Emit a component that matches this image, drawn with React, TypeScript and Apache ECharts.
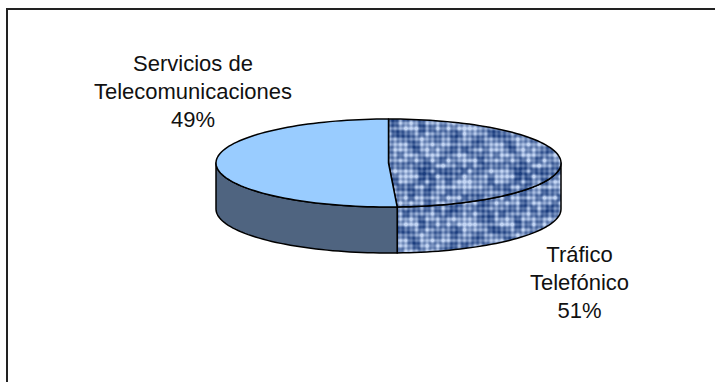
import React, { useEffect, useRef } from "react";
import * as echarts from "echarts";

// Printed on the chart.
const categories = ["Tráfico\nTelefónico", "Servicios de\nTelecomunicaciones"];
const printedPercent = [51, 49];
// Shares as actually drawn in the reference (measured from its slice boundary):
// the source's 3D projection makes the "51%" slice sweep slightly under half.
const drawnShares = [49.2, 50.8];

const labelCentres = [[579.5, 282], [193, 91.5]];
const CX = 388.5, CY = 163, RX = 172.5, RY = 44, DEPTH = 46;

function makeTexture() {
  const S = 96;
  const c = document.createElement("canvas");
  c.width = S; c.height = S;
  const ctx = c.getContext("2d")!;
  const img = ctx.createImageData(S, S);
  const N = 18; // coarse cells, wrapped so the tile repeats seamlessly
  const hash = (a: number, b: number) => {
    const x = ((a + N) % N), y = ((b + N) % N);
    let h = x * 374761 + y * 668265 + 1013;
    h = (h ^ (h >> 7)) * 1274;
    h = h ^ (h >> 11);
    return (Math.abs(h) % 101) / 100;
  };
  const smooth = (t: number) => t * t * (3 - 2 * t);
  const noise = (u: number, v: number) => {
    const i = Math.floor(u), j = Math.floor(v);
    const fu = smooth(u - i), fv = smooth(v - j);
    const a = hash(i, j), b = hash(i + 1, j), d = hash(i, j + 1), e = hash(i + 1, j + 1);
    return (a * (1 - fu) + b * fu) * (1 - fv) + (d * (1 - fu) + e * fu) * fv;
  };
  for (let y = 0; y < S; y++) {
    for (let x = 0; x < S; x++) {
      const u = (x / S) * N, v = (y / S) * N;
      const threads = 0.5 + 0.25 * Math.cos(2 * Math.PI * u) + 0.25 * Math.cos(2 * Math.PI * v);
      const t = Math.max(0, Math.min(1, 0.85 * noise(u, v) + 0.55 * threads - 0.2));
      const i = (y * S + x) * 4;
      img.data[i] = 26 + t * (196 - 26);
      img.data[i + 1] = 60 + t * (214 - 60);
      img.data[i + 2] = 125 + t * (244 - 125);
      img.data[i + 3] = 255;
    }
  }
  ctx.putImageData(img, 0, 0);
  return c;
}

const rad = (d: number) => (d * Math.PI) / 180;
const pt = (deg: number, dy = 0) => [CX + RX * Math.sin(rad(deg)), CY - RY * Math.cos(rad(deg)) + dy];
const arc = (a: number, b: number, dy = 0) => {
  const n = Math.max(2, Math.ceil(Math.abs(b - a) / 2));
  const out: number[][] = [];
  for (let i = 0; i <= n; i++) out.push(pt(a + ((b - a) * i) / n, dy));
  return out;
};

export default function App() {
  const ref = useRef<HTMLDivElement>(null);
  useEffect(() => {
    document.body.style.margin = "0";
    const chart = echarts.init(ref.current!, undefined, { renderer: "svg" });
    const texture = { image: makeTexture(), repeat: "repeat" } as any;
    const fills = [texture, "#99CCFF"];
    const wallFills = [texture, "#4F6480"];
    const total = drawnShares.reduce((a, b) => a + b, 0);
    const stroke = { stroke: "#000", lineWidth: 1.5, lineJoin: "round" };

    chart.setOption({
      animation: false,
      backgroundColor: "#fff",
      graphic: [
        { type: "line", shape: { x1: 6, y1: 9, x2: 715, y2: 9 }, style: { stroke: "#222", lineWidth: 2 } },
        { type: "line", shape: { x1: 7, y1: 8, x2: 7, y2: 382 }, style: { stroke: "#222", lineWidth: 2 } },
      ],
      series: [
        {
          type: "custom",
          coordinateSystem: "none",
          data: drawnShares.map((v, i) => ({ value: [v, printedPercent[i]], name: categories[i] })),
          renderItem: (params: any, api: any) => {
            const i = params.dataIndex;
            let start = 0;
            for (let k = 0; k < i; k++) start += (drawnShares[k] / total) * 360;
            const end = start + (api.value(0) / total) * 360;
            const children: any[] = [];
            // outer wall: only the part of the rim facing the viewer (90deg..270deg)
            const a = Math.max(start, 90), b = Math.min(end, 270);
            if (b > a) {
              const top = arc(a, b);
              const bottom = arc(b, a, DEPTH);
              children.push({
                type: "polygon",
                shape: { points: top.concat(bottom) },
                style: { fill: wallFills[i], ...stroke },
              });
            }
            // top face
            children.push({
              type: "polygon",
              shape: { points: [[CX, CY] as number[]].concat(arc(start, end)) },
              style: { fill: fills[i], ...stroke },
            });
            const [lx, ly] = labelCentres[i];
            children.push({
              type: "text",
              x: lx,
              y: ly,
              style: {
                text: `${categories[i]}\n${api.value(1)}%`,
                fill: "#111",
                font: '22px "Liberation Sans", Arial, sans-serif',
                lineHeight: 28,
                align: "center",
                verticalAlign: "middle",
              },
            });
            return { type: "group", children };
          },
        },
      ],
    });
    return () => chart.dispose();
  }, []);
  return <div ref={ref} style={{ width: 715, height: 382 }} />;
}
